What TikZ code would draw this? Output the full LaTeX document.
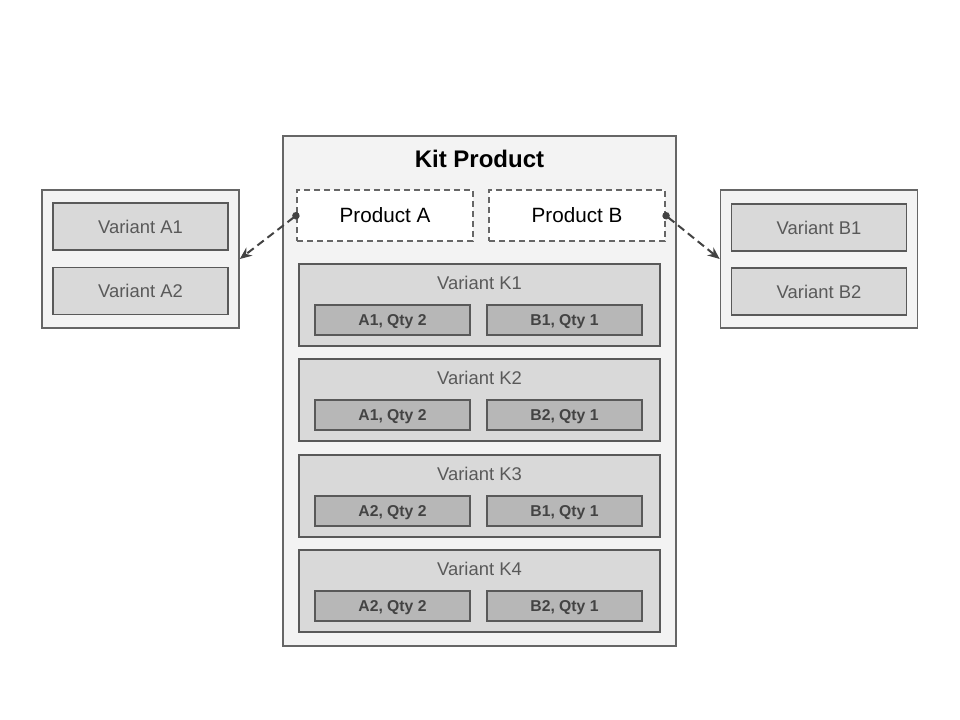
\documentclass[tikz,border=0pt]{standalone}
\usepackage{fontspec}
\setmainfont{Liberation Sans}
\usetikzlibrary{arrows.meta}

\definecolor{paneFill}{HTML}{F3F3F3}
\definecolor{paneLine}{HTML}{666666}
\definecolor{varFill}{HTML}{D9D9D9}
\definecolor{varLine}{HTML}{595959}
\definecolor{partFill}{HTML}{B7B7B7}
\definecolor{linkLine}{HTML}{434343}

\begin{document}
\begin{tikzpicture}[x=0.75pt,y=-0.75pt,
pane/.style={
	% The shape:
	rectangle,
	% The border and filling:
	line width=1.2pt,draw=paneLine,fill=paneFill},
variant/.style={
	rectangle,minimum width=131pt,minimum height=35.25pt,
	line width=1.2pt,draw=varLine,fill=varFill,
	text=varLine,font=\fontsize{13.8}{16}\selectfont},
kitvariant/.style={
	rectangle,minimum width=270.75pt,minimum height=61.5pt,
	line width=1.2pt,draw=varLine,fill=varFill},
part/.style={
	rectangle,minimum width=116.25pt,minimum height=22.5pt,
	line width=0.9pt,draw=varLine,fill=partFill,
	text depth=0pt,% keep the label on the middle
	text=linkLine,font=\fontsize{11.8}{13}\selectfont\bfseries},
product/.style={
	rectangle,minimum width=132pt,minimum height=38.25pt,
	line width=1.2pt,draw=paneLine,fill=white,
	dash pattern=on 4.5pt off 3pt,
	font=\fontsize{15.5}{18}\selectfont},
link/.style={
	line width=1.5pt,draw=linkLine,dash pattern=on 6pt off 3.5pt,
	{Circle[length=5.5pt]}-{Stealth[length=9pt,width=7.5pt]},shorten <=-2.5pt}]

\useasboundingbox (0,0) rectangle (960,720);

% Kit product in the middle
\node (kit) [pane,minimum width=294.75pt,minimum height=382.5pt] at (479.5,391) {};
\node (kittitle) [font=\fontsize{18}{20}\selectfont\bfseries] at (479.5,159) {Kit Product};
\node (pA) [product] at (385,215.5) {Product A};
\node (pB) [product] at (577,215.5) {Product B};

% The four kit variants
\node (K1) [kitvariant] at (479.5,305) {};
\node (K1t) [text=varLine,font=\fontsize{13.8}{16}\selectfont] at (479.5,283) {Variant K1};
\node (K1a) [part] at (392.5,320) {A1, Qty 2};
\node (K1b) [part] at (564.5,320) {B1, Qty 1};

\node (K2) [kitvariant] at (479.5,400) {};
\node (K2t) [text=varLine,font=\fontsize{13.8}{16}\selectfont] at (479.5,378) {Variant K2};
\node (K2a) [part] at (392.5,415) {A1, Qty 2};
\node (K2b) [part] at (564.5,415) {B2, Qty 1};

\node (K3) [kitvariant] at (479.5,496) {};
\node (K3t) [text=varLine,font=\fontsize{13.8}{16}\selectfont] at (479.5,474) {Variant K3};
\node (K3a) [part] at (392.5,511) {A2, Qty 2};
\node (K3b) [part] at (564.5,511) {B1, Qty 1};

\node (K4) [kitvariant] at (479.5,591) {};
\node (K4t) [text=varLine,font=\fontsize{13.8}{16}\selectfont] at (479.5,569) {Variant K4};
\node (K4a) [part] at (392.5,606) {A2, Qty 2};
\node (K4b) [part] at (564.5,606) {B2, Qty 1};

% Product A with its variants
\node (left) [pane,minimum width=147.75pt,minimum height=103.5pt] at (140.5,259) {};
\node (A1) [variant] at (140.5,226.5) {Variant A1};
\node (A2) [variant] at (140.5,291) {Variant A2};

% Product B with its variants
\node (right) [pane,minimum width=147.75pt,minimum height=103.5pt] at (819,259) {};
\node (B1) [variant] at (819,227.5) {Variant B1};
\node (B2) [variant] at (819,291.5) {Variant B2};

\draw[link] (pA.west) -- (left.east);
\draw[link] (pB.east) -- (right.west);

\end{tikzpicture}
\end{document}
